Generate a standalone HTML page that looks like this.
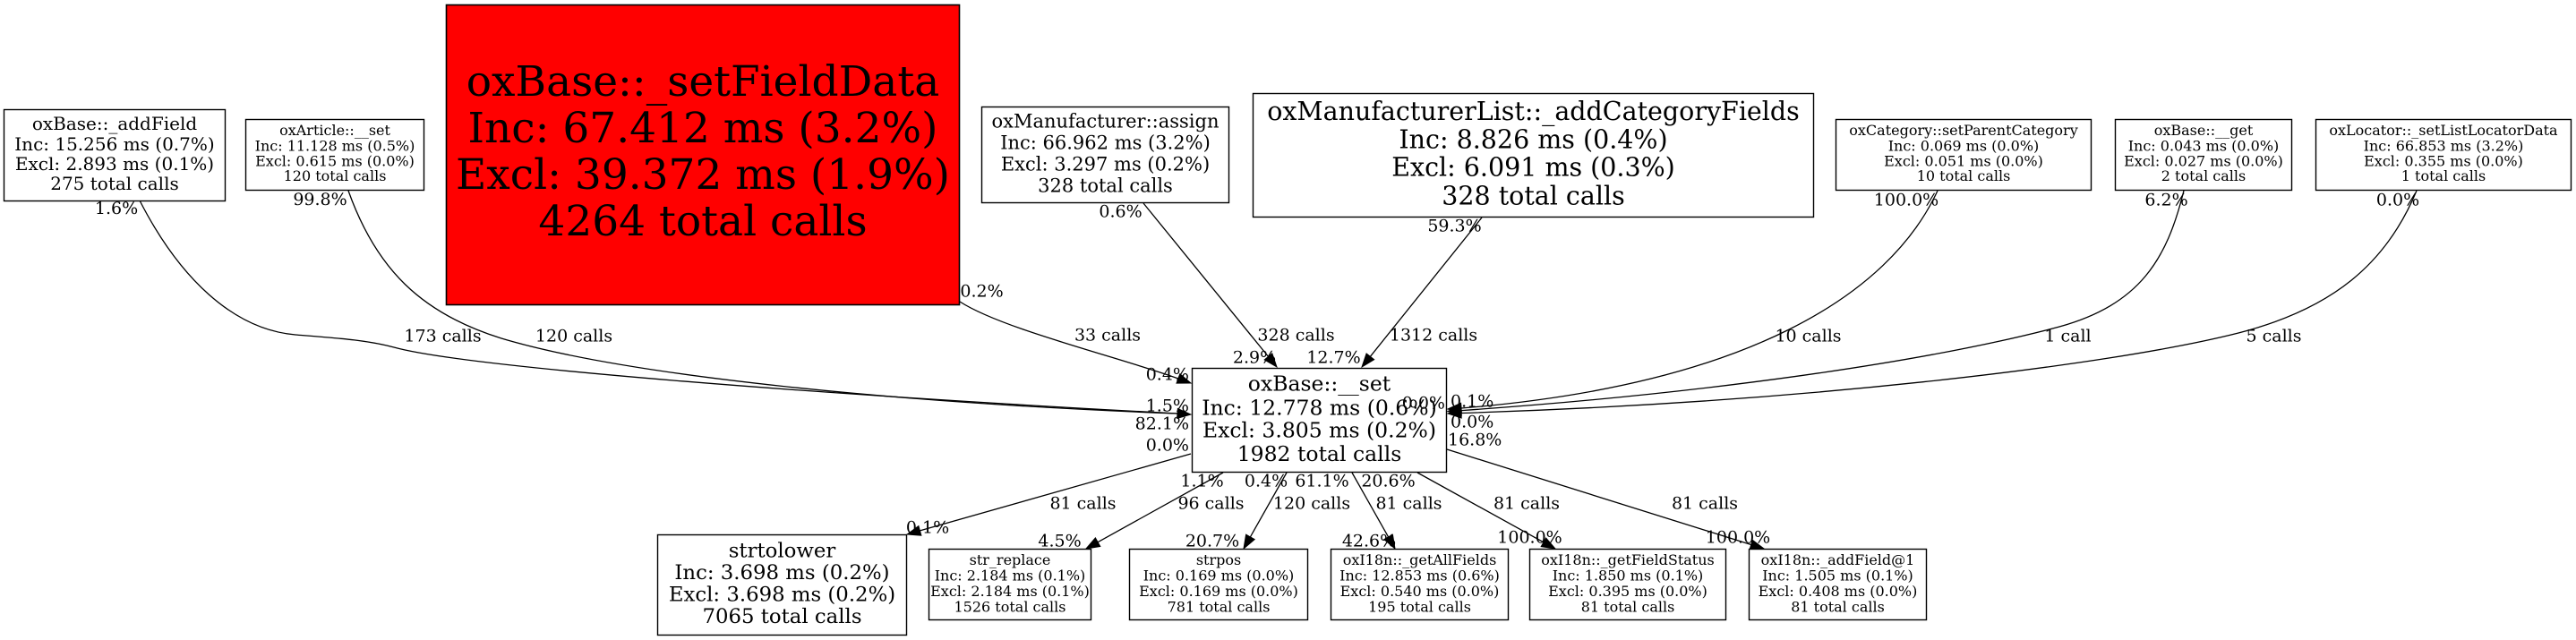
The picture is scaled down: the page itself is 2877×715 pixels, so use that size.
<!DOCTYPE html>
<html>
<head>
<meta charset="utf-8">
<style>
  html, body { margin: 0; padding: 0; background: #ffffff; }
  body { width: 2877px; height: 715px; overflow: hidden; }
  svg { display: block; }
  text { font-family: "DejaVu Serif", "Liberation Serif", serif; fill: #000; }
  .n { text-anchor: middle; }
  .e { font-size: 19px; }
  .m { text-anchor: middle; }
  .r { text-anchor: end; }
  .s { text-anchor: start; }
  .box { fill: #fff; stroke: #000; stroke-width: 1.4; }
  .edge { fill: none; stroke: #000; stroke-width: 1.3; }
  .ah { fill: #000; stroke: #000; stroke-width: 1; }
</style>
</head>
<body>
<svg width="2877" height="715" viewBox="0 0 2877 715" xmlns="http://www.w3.org/2000/svg">
  <rect x="0" y="0" width="2877" height="715" fill="#fff"/>

  <!-- ============ EDGES ============ -->
  <path class="edge" d="M156,224 C200,310 260,368 330,374 C380,378 410,380 440,388 C520,410 900,440 1315,462"/>
  <path class="edge" d="M389,213 C420,300 470,350 560,378 C700,420 1000,450 1315,462"/>
  <polygon class="ah" points="1330,463 1314.6,467.5 1315.4,456.5"/>
  <path class="edge" d="M1072,337 C1120,368 1250,399 1316,423"/>
  <polygon class="ah" points="1330,428 1314,428.1 1317.8,417.7"/>
  <path class="edge" d="M1277,227 L1416.5,398.4"/>
  <polygon class="ah" points="1426,410 1412.2,401.9 1420.8,394.9"/>
  <path class="edge" d="M1655,243 L1530.4,398.3"/>
  <polygon class="ah" points="1521,410 1526.1,394.9 1534.7,401.7"/>
  <path class="edge" d="M2164,213 C2110,330 1950,430 1632,456"/>
  <polygon class="ah" points="1617,457 1631.6,450.3 1632.4,461.3"/>
  <path class="edge" d="M2439,213 C2420,290 2390,340 2300,365 C2150,405 1900,440 1632,458.6"/>
  <polygon class="ah" points="1617,459.5 1631.7,453.1 1632.3,464.1"/>
  <path class="edge" d="M2699,213 C2665,295 2605,345 2500,372 C2350,410 2000,450 1632,461.5"/>
  <polygon class="ah" points="1617,462 1631.8,456 1632.2,467"/>

  <path class="edge" d="M1330,507 L1027.4,592.9"/>
  <polygon class="ah" points="1013,597 1025.9,587.6 1028.9,598.2"/>
  <path class="edge" d="M1366,528 L1226.1,605.7"/>
  <polygon class="ah" points="1213,613 1223.4,600.9 1228.8,610.5"/>
  <path class="edge" d="M1437,528 L1396.4,599.9"/>
  <polygon class="ah" points="1389,613 1391.6,597.2 1401.2,602.6"/>
  <path class="edge" d="M1510,528 L1550.6,599.9"/>
  <polygon class="ah" points="1558,613 1545.8,602.6 1555.4,597.2"/>
  <path class="edge" d="M1583,528 L1723.9,605.8"/>
  <polygon class="ah" points="1737,613 1721.2,610.6 1726.6,601"/>
  <path class="edge" d="M1616,502 L1955.7,608.5"/>
  <polygon class="ah" points="1970,613 1954.1,613.8 1957.3,603.3"/>

  <!-- ============ NODES ============ -->
  <rect class="box" x="4.5" y="122.5" width="247" height="102"/>
  <g class="n" font-size="20">
    <text x="128" y="145">oxBase::_addField</text>
    <text x="128" y="168">Inc: 15.256 ms (0.7%)</text>
    <text x="128" y="190">Excl: 2.893 ms (0.1%)</text>
    <text x="128" y="212">275 total calls</text>
  </g>

  <rect class="box" x="274.5" y="133.5" width="199" height="79"/>
  <g class="n" font-size="16">
    <text x="374" y="151">oxArticle::__set</text>
    <text x="374" y="168.3">Inc: 11.128 ms (0.5%)</text>
    <text x="374" y="185.3">Excl: 0.615 ms (0.0%)</text>
    <text x="374" y="202">120 total calls</text>
  </g>

  <rect x="498.5" y="5.5" width="573" height="335" fill="#ff0000" stroke="#000" stroke-width="1.6"/>
  <g class="n" font-size="47">
    <text x="785" y="107">oxBase::_setFieldData</text>
    <text x="785" y="159">Inc: 67.412 ms (3.2%)</text>
    <text x="785" y="211">Excl: 39.372 ms (1.9%)</text>
    <text x="785" y="263">4264 total calls</text>
  </g>

  <rect class="box" x="1096.5" y="119.5" width="276" height="107"/>
  <g class="n" font-size="21">
    <text x="1234.5" y="142.5">oxManufacturer::assign</text>
    <text x="1234.5" y="166.5">Inc: 66.962 ms (3.2%)</text>
    <text x="1234.5" y="190.5">Excl: 3.297 ms (0.2%)</text>
    <text x="1234.5" y="214.5">328 total calls</text>
  </g>

  <rect class="box" x="1399.5" y="104.5" width="626" height="138"/>
  <g class="n" font-size="28.5">
    <text x="1712.5" y="134">oxManufacturerList::_addCategoryFields</text>
    <text x="1712.5" y="165.7">Inc: 8.826 ms (0.4%)</text>
    <text x="1712.5" y="196.7">Excl: 6.091 ms (0.3%)</text>
    <text x="1712.5" y="228.3">328 total calls</text>
  </g>

  <rect class="box" x="2050.5" y="133.5" width="285" height="79"/>
  <g class="n" font-size="16">
    <text x="2193" y="151">oxCategory::setParentCategory</text>
    <text x="2193" y="168.3">Inc: 0.069 ms (0.0%)</text>
    <text x="2193" y="185.3">Excl: 0.051 ms (0.0%)</text>
    <text x="2193" y="202">10 total calls</text>
  </g>

  <rect class="box" x="2362.5" y="133.5" width="197" height="79"/>
  <g class="n" font-size="16">
    <text x="2461" y="151">oxBase::__get</text>
    <text x="2461" y="168.3">Inc: 0.043 ms (0.0%)</text>
    <text x="2461" y="185.3">Excl: 0.027 ms (0.0%)</text>
    <text x="2461" y="202">2 total calls</text>
  </g>

  <rect class="box" x="2586.5" y="133.5" width="285" height="79"/>
  <g class="n" font-size="16">
    <text x="2729" y="151">oxLocator::_setListLocatorData</text>
    <text x="2729" y="168.3">Inc: 66.853 ms (3.2%)</text>
    <text x="2729" y="185.3">Excl: 0.355 ms (0.0%)</text>
    <text x="2729" y="202">1 total calls</text>
  </g>

  <rect class="box" x="1331.5" y="411.5" width="284" height="116"/>
  <g class="n" font-size="23.5">
    <text x="1473.5" y="436.5">oxBase::__set</text>
    <text x="1473.5" y="463.5">Inc: 12.778 ms (0.6%)</text>
    <text x="1473.5" y="488.5">Excl: 3.805 ms (0.2%)</text>
    <text x="1473.5" y="515">1982 total calls</text>
  </g>

  <rect class="box" x="734.5" y="597.5" width="278" height="112"/>
  <g class="n" font-size="22.8">
    <text x="873.5" y="622.5">strtolower</text>
    <text x="873.5" y="647">Inc: 3.698 ms (0.2%)</text>
    <text x="873.5" y="671.5">Excl: 3.698 ms (0.2%)</text>
    <text x="873.5" y="696">7065 total calls</text>
  </g>

  <rect class="box" x="1037.5" y="613.5" width="181" height="79"/>
  <g class="n" font-size="16">
    <text x="1128" y="631">str_replace</text>
    <text x="1128" y="648.5">Inc: 2.184 ms (0.1%)</text>
    <text x="1128" y="666">Excl: 2.184 ms (0.1%)</text>
    <text x="1128" y="683.3">1526 total calls</text>
  </g>

  <rect class="box" x="1261.5" y="613.5" width="199" height="79"/>
  <g class="n" font-size="16">
    <text x="1361" y="631">strpos</text>
    <text x="1361" y="648.5">Inc: 0.169 ms (0.0%)</text>
    <text x="1361" y="666">Excl: 0.169 ms (0.0%)</text>
    <text x="1361" y="683.3">781 total calls</text>
  </g>

  <rect class="box" x="1486.5" y="613.5" width="198" height="79"/>
  <g class="n" font-size="16">
    <text x="1585.5" y="631">oxI18n::_getAllFields</text>
    <text x="1585.5" y="648.5">Inc: 12.853 ms (0.6%)</text>
    <text x="1585.5" y="666">Excl: 0.540 ms (0.0%)</text>
    <text x="1585.5" y="683.3">195 total calls</text>
  </g>

  <rect class="box" x="1708.5" y="613.5" width="219" height="79"/>
  <g class="n" font-size="16">
    <text x="1818" y="631">oxI18n::_getFieldStatus</text>
    <text x="1818" y="648.5">Inc: 1.850 ms (0.1%)</text>
    <text x="1818" y="666">Excl: 0.395 ms (0.0%)</text>
    <text x="1818" y="683.3">81 total calls</text>
  </g>

  <rect class="box" x="1953.5" y="613.5" width="198" height="79"/>
  <g class="n" font-size="16">
    <text x="2052.5" y="631">oxI18n::_addField@1</text>
    <text x="2052.5" y="648.5">Inc: 1.505 ms (0.1%)</text>
    <text x="2052.5" y="666">Excl: 0.408 ms (0.0%)</text>
    <text x="2052.5" y="683.3">81 total calls</text>
  </g>

  <!-- ============ EDGE LABELS ============ -->
  <g class="e">
    <text class="m" x="130" y="239">1.6%</text>
    <text class="m" x="357.5" y="229">99.8%</text>
    <text class="m" x="494.5" y="381.5">173 calls</text>
    <text class="m" x="641" y="381.5">120 calls</text>
    <text class="m" x="1096.5" y="331.5">0.2%</text>
    <text class="m" x="1237" y="380.5">33 calls</text>
    <text class="m" x="1251.5" y="242.5">0.6%</text>
    <text class="m" x="1447.5" y="380.5">328 calls</text>
    <text class="m" x="1624.5" y="258.5">59.3%</text>
    <text class="m" x="1601" y="380.5">1312 calls</text>
    <text class="m" x="1401" y="405.5">2.9%</text>
    <text class="m" x="1489.5" y="405.5">12.7%</text>

    <text class="r" x="1328" y="424.5">0.4%</text>
    <text class="r" x="1328" y="459.5">1.5%</text>
    <text class="r" x="1328" y="479.5">82.1%</text>
    <text class="r" x="1328" y="503.5">0.0%</text>

    <text class="r" x="1614" y="456.5">0.0%</text>
    <text class="s" x="1620" y="454.5">0.1%</text>
    <text class="s" x="1620" y="477.5">0.0%</text>
    <text class="s" x="1617" y="497.5">16.8%</text>

    <text class="m" x="2129" y="229.5">100.0%</text>
    <text class="m" x="2419.5" y="229.5">6.2%</text>
    <text class="m" x="2678" y="229.5">0.0%</text>
    <text class="m" x="2019.5" y="381.5">10 calls</text>
    <text class="m" x="2309.5" y="381.5">1 call</text>
    <text class="m" x="2539.5" y="381.5">5 calls</text>

    <text class="m" x="1342.5" y="543.5">1.1%</text>
    <text class="m" x="1414" y="543.5">0.4%</text>
    <text class="m" x="1476.5" y="543.5">61.1%</text>
    <text class="m" x="1550.5" y="543.5">20.6%</text>

    <text class="m" x="1209.5" y="568.5">81 calls</text>
    <text class="m" x="1352.5" y="568.5">96 calls</text>
    <text class="m" x="1465" y="568.5">120 calls</text>
    <text class="m" x="1573.5" y="568.5">81 calls</text>
    <text class="m" x="1705" y="568.5">81 calls</text>
    <text class="m" x="1904" y="568.5">81 calls</text>

    <text class="m" x="1036" y="595.5">0.1%</text>
    <text class="m" x="1183.5" y="610.5">4.5%</text>
    <text class="m" x="1354" y="610.5">20.7%</text>
    <text class="m" x="1529" y="610.5">42.6%</text>
    <text class="m" x="1708.5" y="606.5">100.0%</text>
    <text class="m" x="1941" y="606.5">100.0%</text>
  </g>
</svg>
</body>
</html>
